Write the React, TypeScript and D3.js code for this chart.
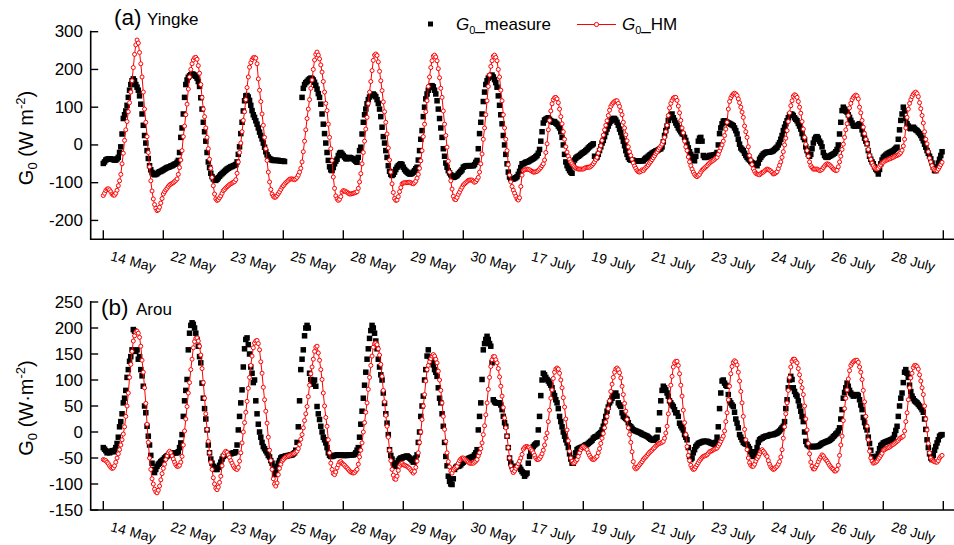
import React from 'react';
import * as d3 from 'd3';

// day labels, one per 24 h block (half-hourly values, 48 per day)
const days = ['14 May', '22 May', '23 May', '25 May', '28 May', '29 May', '30 May',
  '17 July', '19 July', '21 July', '23 July', '24 July', '26 July', '28 July'];

const yTicksA = [-200, -100, 0, 100, 200, 300];
const yTicksB = [-150, -100, -50, 0, 50, 100, 150, 200, 250];

// (a) Yingke, G0 measured
const yingkeMeasure = [
  -49,-45,-40,-38,-37,-37,-37,-38,-39,-40,-40,-37,-33,-20,-5,29,70,80,90,105,126,145,160,170,175,170,160,153,145,130,108,82,52,25,5,-15,-36,-55,-66,-73,-77,-79,-78,-76,-73,-71,-70,-68,
  -66,-64,-62,-60,-59,-58,-56,-55,-53,-51,-50,-46,-41,-20,20,45,82,126,160,172,179,183,186,188,187,185,182,177,168,155,125,95,60,35,10,-20,-45,-60,-75,-84,-90,-93,-94,-91,-87,-83,-79,-76,
  -73,-70,-67,-64,-62,-60,-58,-57,-55,-54,-52,-45,-25,-5,30,60,90,117,130,131,127,118,105,91,80,73,64,55,45,34,25,16,5,-6,-18,-26,-32,-36,-38,-40,-41,-41,-41,-41,-41,-42,-42,-43,
  -43,-44,null,null,null,null,null,null,null,null,null,null,null,null,null,126,150,160,165,168,172,175,177,176,172,166,158,148,136,126,108,82,55,30,5,-20,-41,-58,-66,-68,-60,-50,-43,-38,-28,-22,-20,-24,
  -28,-32,-36,-37,-35,-33,-34,-36,-37,-40,-43,-46,-33,-15,-6,29,60,80,95,109,120,127,131,133,135,132,128,120,110,95,75,47,22,5,-15,-33,-55,-70,-78,-81,-78,-72,-65,-59,-55,-52,-50,-52,
  -59,-65,-69,-72,-75,-77,-77,-75,-72,-68,-63,-59,-40,-15,15,38,75,100,122,135,145,152,155,157,154,145,135,117,95,70,45,20,-10,-30,-48,-59,-68,-74,-79,-83,-86,-85,-83,-81,-77,-73,-70,-66,
  -59,-57,-56,-55,-55,-55,-55,-55,-55,-52,-46,-41,-10,30,60,82,115,140,160,170,177,182,184,185,180,173,165,153,130,105,80,56,25,0,-25,-50,-72,-85,-90,-90,-90,-89,-87,-84,-78,-70,-60,-50,
  -50,-48,-46,-45,-44,-42,-40,-38,-36,-34,-31,-28,-22,-12,10,35,58,66,68,70,72,68,64,62,60,62,58,55,50,45,35,20,0,-25,-45,-55,-62,-68,-72,-75,-55,-40,-35,-32,-30,-28,-25,-22,
  -20,-18,-15,-12,-8,-5,-2,0,3,-30,-35,-32,-25,-15,-5,5,12,22,33,42,50,58,63,67,70,70,66,60,52,42,33,22,10,-2,-15,-25,-33,-38,-40,-40,-41,-42,-43,-43,-43,-42,-42,-42,
  -42,-38,-35,-33,-30,-27,-25,-22,-20,-18,-16,-15,-13,-11,-10,-5,8,25,38,50,65,75,80,82,72,65,58,52,45,40,35,30,28,20,12,2,-8,-18,-25,-32,-38,-42,-30,-15,10,18,20,10,
  -28,-33,-33,-32,-30,-28,-28,-28,-27,-26,-25,-20,0,30,45,56,63,64,62,60,58,57,55,53,51,45,38,29,15,2,-8,-12,-15,-22,-28,-33,-37,-40,-44,-47,-50,-52,-54,-55,-48,-38,-33,-28,
  -24,-22,-20,-19,-19,-19,-18,-17,-15,-12,-9,-6,0,6,15,25,38,47,56,64,72,80,82,81,78,72,68,64,57,50,42,30,20,14,-5,-15,-25,-30,-25,-10,5,15,20,22,18,10,5,-5,
  -20,-28,-32,-33,-32,-30,-28,-26,-24,-22,-18,-12,0,29,60,91,100,95,90,87,80,73,65,58,51,50,50,51,54,56,50,40,29,18,10,3,-15,-30,-38,-45,-50,-58,-64,-68,-77,-65,-50,-40,
  -33,-30,-27,-24,-22,-20,-19,-17,-15,-12,-9,-6,15,40,65,82,100,90,70,56,50,45,43,45,47,44,40,38,34,30,25,18,11,2,-6,-15,-22,-30,-37,-48,-59,-68,-68,-59,-48,-38,-28,-18,
];

// (a) Yingke, G0 from the HM model
const yingkeHM = [
  -134,-128,-121,-117,-116,-119,-124,-130,-133,-133,-128,-120,-108,-95,-78,-50,-22,12,40,62,88,112,140,170,205,240,265,278,270,245,215,180,140,95,60,22,-20,-58,-95,-122,-143,-158,-168,-174,-172,-165,-154,-142,
  -130,-124,-119,-115,-110,-106,-104,-102,-100,-97,-94,-90,-78,-60,-40,-15,22,50,80,108,148,180,200,215,225,231,232,227,210,190,160,126,95,75,45,20,-10,-38,-62,-86,-108,-130,-143,-147,-145,-140,-135,-128,
  -121,-118,-114,-111,-108,-105,-103,-101,-99,-97,-92,-75,-45,-20,5,35,65,88,120,152,180,206,218,226,231,232,230,215,175,145,115,82,52,20,-10,-41,-72,-98,-118,-130,-136,-139,-138,-134,-129,-124,-118,-112,
  -108,-104,-100,-97,-94,-91,-90,-90,-91,-92,-90,-86,-80,-72,-62,-45,-18,10,40,70,95,120,150,172,200,225,240,246,238,228,212,193,168,140,110,91,55,20,-10,-41,-85,-115,-135,-143,-147,-144,-137,-125,
  -121,-122,-124,-125,-128,-130,-130,-129,-128,-127,-126,-124,-115,-98,-76,-50,-20,10,42,73,110,140,168,197,224,238,241,237,220,195,170,144,114,88,60,29,-8,-40,-72,-103,-126,-142,-147,-146,-137,-124,-113,-103,
  -101,-100,-100,-100,-99,-99,-100,-102,-103,-100,-96,-88,-78,-62,-42,-15,22,55,88,117,155,180,205,223,235,238,233,223,202,178,150,126,90,55,25,-6,-43,-72,-95,-117,-136,-144,-145,-139,-131,-125,-118,-112,
  -106,-103,-100,-97,-94,-93,-93,-93,-96,-99,-97,-92,-86,-72,-50,-24,15,45,80,117,155,185,208,223,235,238,232,223,200,180,145,117,80,45,15,-15,-52,-80,-98,-110,-120,-128,-136,-143,-146,-140,-110,-80,
  -68,-66,-65,-64,-65,-66,-68,-70,-72,-72,-71,-70,-67,-64,-60,-55,-50,-40,-20,3,40,65,90,109,120,125,126,122,112,95,75,56,35,15,-5,-19,-30,-38,-45,-50,-55,-58,-61,-63,-64,-64,-64,-64,
  -64,-62,-60,-59,-59,-59,-57,-54,-50,-45,-39,-33,-22,-12,-2,12,26,40,52,64,78,92,102,108,112,115,117,117,110,102,90,80,60,45,27,11,-5,-18,-28,-38,-48,-56,-62,-68,-71,-72,-70,-66,
  -68,-64,-60,-57,-53,-48,-44,-39,-34,-29,-23,-19,-13,-8,-3,2,9,20,35,52,78,98,110,118,124,126,126,118,103,85,65,45,32,10,-5,-15,-32,-45,-55,-64,-72,-78,-82,-84,-81,-78,-72,-67,
  -64,-61,-58,-55,-51,-48,-45,-43,-41,-38,-35,-33,-25,-16,-8,0,10,25,42,60,95,115,125,131,135,137,135,131,122,112,100,87,73,50,35,20,-5,-28,-40,-52,-63,-70,-75,-77,-78,-79,-76,-73,
  -72,-69,-66,-64,-65,-67,-69,-73,-77,-76,-74,-71,-63,-54,-45,-33,-18,0,18,38,62,85,104,117,129,133,131,126,115,100,84,62,42,20,2,-15,-30,-45,-55,-60,-64,-64,-64,-64,-66,-68,-67,-65,
  -60,-56,-52,-50,-51,-53,-56,-60,-64,-66,-68,-67,-58,-45,-30,-12,2,20,40,56,78,98,110,120,126,130,132,130,122,100,85,65,47,30,15,3,-12,-28,-38,-48,-55,-60,-63,-64,-62,-57,-53,-48,
  -46,-43,-41,-40,-38,-37,-36,-34,-33,-31,-29,-28,-26,-24,-20,-14,-3,15,45,73,95,110,120,128,134,138,140,136,128,112,96,78,58,35,15,3,-18,-35,-45,-55,-63,-66,-68,-68,-64,-58,-52,-46,
];

// (b) Arou, G0 measured
const arouMeasure = [
  -30,-33,-36,-40,-38,-40,-38,-36,-38,-35,-30,-22,-10,10,20,35,56,65,80,105,120,136,145,158,197,194,155,158,140,145,120,108,88,50,37,11,-8,-25,-45,-60,-72,-78,-72,-66,-62,-60,-57,-55,
  -53,-50,-48,-46,-45,-44,-43,-42,-41,-40,-40,-40,-38,-30,-21,-5,30,60,80,101,158,190,205,210,207,200,190,178,165,145,133,94,65,45,25,4,-25,-40,-52,-60,-66,-70,-72,-72,-68,-64,-58,-52,
  -47,-45,-44,-44,-43,-42,-42,-41,-40,-40,-38,-25,4,30,56,81,125,160,178,181,168,150,125,113,95,100,60,35,15,0,-10,-20,-28,-32,-36,-40,-45,-48,-55,-60,-70,-82,-75,-66,-60,-55,-50,-48,
  -48,-47,-46,-46,-45,-45,-44,-44,-42,-40,-35,-20,10,60,120,140,158,185,200,205,200,113,101,95,92,100,88,49,35,24,11,0,-10,-15,-21,-30,-40,-45,-47,-47,-46,-45,-45,-44,-44,-44,-45,-44,
  -45,-45,-45,-45,-44,-44,-44,-44,-44,-43,-40,-35,-30,-10,15,40,65,90,115,140,160,180,195,205,200,190,175,160,140,125,110,100,75,55,35,17,-5,-34,-45,-52,-60,-66,-66,-60,-55,-52,-50,-50,
  -48,-48,-47,-46,-48,-50,-52,-55,-58,-56,-50,-44,-20,0,30,50,69,100,120,146,158,145,139,135,129,120,115,107,85,65,56,35,11,-20,-47,-65,-85,-95,-100,-101,-90,-72,-68,-66,-66,-65,-63,-60,
  -58,-56,-54,-53,-51,-50,-49,-48,-47,-44,-40,-34,4,30,56,101,158,170,178,184,178,170,165,133,62,58,56,56,56,56,52,43,30,18,11,-8,-30,-50,-60,-66,-72,-70,-68,-66,-66,-68,-72,-76,
  -79,-85,-82,-79,-60,-47,-38,-32,-28,-25,-23,-21,4,30,70,100,113,110,105,101,98,94,90,85,75,70,62,56,45,30,20,10,0,-8,-15,-21,-30,-42,-52,-60,-60,-50,-40,-34,-32,-31,-30,-29,
  -28,-26,-25,-24,-22,-20,-18,-16,-12,-10,-9,-8,-5,-3,-1,4,11,20,30,40,48,56,60,65,69,73,75,69,56,52,49,37,30,28,26,24,18,12,10,7,4,3,2,1,0,-1,-2,-4,
  -5,-6,-7,-8,-10,-12,-14,-15,-16,-14,-12,-10,4,37,60,80,88,85,81,75,69,60,56,52,49,43,37,37,30,17,12,8,4,-5,-10,-15,-30,-47,-53,-50,-40,-34,-28,-25,-22,-21,-20,-19,
  -18,-18,-18,-18,-19,-20,-21,-22,-23,-24,-20,-10,10,45,75,98,100,94,90,88,72,60,56,52,49,38,25,17,8,-5,-10,-15,-20,-22,-23,-24,-28,-32,-38,-43,-47,-45,-38,-30,-20,-15,-13,-12,
  -10,-9,-8,-8,-7,-6,-5,-5,-5,-4,-3,-2,0,2,5,8,11,20,45,62,85,100,107,101,85,78,72,69,60,50,40,30,20,0,-18,-24,-26,-28,-28,-28,-28,-28,-28,-28,-27,-26,-24,-22,
  -21,-20,-19,-18,-17,-16,-14,-12,-9,-7,-4,-2,2,8,25,43,65,76,85,94,88,80,75,72,69,70,71,72,70,62,52,43,28,18,10,4,-10,-22,-35,-47,-53,-51,-49,-47,-42,-32,-26,-24,
  -21,-20,-19,-18,-17,-16,-15,-14,-12,-5,3,11,30,50,65,75,95,115,120,113,105,90,78,69,64,60,58,56,53,50,47,43,38,25,5,-15,-30,-42,-50,-53,-45,-35,-28,-21,-15,-8,-6,-5,
];

// (b) Arou, G0 from the HM model
const arouHM = [
  -53,-54,-55,-58,-61,-65,-68,-70,-69,-65,-58,-50,-42,-34,-25,-15,-4,10,30,50,75,105,130,155,175,185,192,194,190,182,165,138,115,85,55,15,-20,-50,-72,-90,-100,-110,-115,-117,-112,-104,-92,-80,
  -70,-62,-53,-46,-40,-37,-40,-46,-52,-58,-63,-66,-66,-64,-58,-47,-25,2,25,49,75,95,120,140,162,174,180,181,175,165,148,122,95,65,35,5,-18,-40,-58,-72,-88,-100,-108,-111,-106,-97,-85,-65,
  -45,-40,-37,-39,-44,-49,-55,-60,-65,-69,-71,-72,-68,-56,-40,-21,0,18,38,59,84,105,128,146,162,171,175,176,170,158,135,113,86,62,40,17,-10,-35,-55,-72,-90,-100,-104,-98,-82,-70,-62,-56,
  -53,-50,-48,-47,-46,-45,-44,-43,-42,-41,-39,-37,-32,-24,-14,-5,8,22,35,49,68,90,112,125,140,155,163,165,152,138,120,101,75,50,28,11,-15,-40,-60,-72,-80,-82,-77,-69,-63,-58,-57,-60,
  -62,-64,-67,-69,-72,-75,-77,-78,-79,-78,-75,-72,-62,-48,-35,-21,0,18,38,56,82,105,128,146,163,170,171,168,160,148,130,107,80,58,32,11,-10,-35,-55,-72,-83,-90,-91,-85,-74,-66,-62,-60,
  -63,-64,-65,-66,-68,-70,-73,-76,-79,-76,-68,-56,-40,-20,0,24,50,72,98,120,128,135,141,146,149,146,140,133,117,100,80,56,30,5,-18,-40,-57,-67,-75,-79,-73,-70,-68,-66,-60,-55,-52,-50,
  -50,-52,-54,-56,-58,-60,-60,-60,-60,-58,-56,-53,-46,-40,-32,-21,-5,12,33,56,82,105,126,139,145,145,139,133,122,106,88,69,47,27,8,-8,-30,-50,-65,-72,-78,-75,-70,-66,-61,-56,-50,-43,
  -33,-30,-28,-28,-29,-30,-33,-36,-40,-45,-50,-53,-53,-51,-47,-42,-35,-25,-12,-2,20,42,65,81,103,115,121,123,121,113,100,85,66,48,25,4,-17,-37,-50,-56,-60,-59,-56,-53,-47,-40,-34,-30,
  -28,-30,-32,-34,-40,-45,-49,-52,-53,-52,-49,-47,-40,-32,-22,-12,-3,8,19,30,45,60,78,92,105,115,121,123,120,114,104,88,72,55,40,24,8,-5,-20,-38,-57,-68,-71,-69,-66,-63,-60,-57,
  -53,-50,-48,-45,-42,-39,-37,-35,-32,-30,-27,-25,-23,-22,-21,-20,-18,-12,-2,11,35,60,90,107,125,133,136,136,128,112,90,69,42,18,-5,-28,-45,-55,-64,-69,-72,-71,-67,-63,-59,-55,-52,-49,
  -47,-46,-45,-44,-41,-38,-37,-36,-34,-33,-32,-31,-27,-23,-18,-13,-8,2,20,37,62,88,112,126,134,137,135,129,115,98,78,56,30,5,-15,-34,-50,-59,-64,-66,-66,-62,-56,-51,-47,-42,-37,-34,
  -37,-40,-44,-47,-55,-62,-67,-70,-72,-71,-68,-66,-62,-57,-48,-34,-12,10,35,56,80,105,125,136,140,140,136,133,122,110,97,85,72,50,25,4,-22,-42,-58,-66,-71,-71,-67,-63,-57,-52,-48,-44,
  -46,-50,-53,-56,-60,-64,-67,-70,-72,-75,-75,-72,-64,-45,-25,-8,22,45,65,81,102,118,128,132,135,137,138,138,134,125,115,101,80,58,30,11,-15,-37,-50,-56,-60,-59,-58,-56,-52,-49,-45,-41,
  -35,-34,-32,-31,-30,-29,-27,-25,-24,-22,-20,-18,-16,-13,-11,-10,-8,2,20,37,62,85,104,113,124,128,128,126,121,110,98,85,72,50,25,4,-22,-40,-50,-54,-56,-57,-58,-58,-55,-50,-47,-45,
];

const FONT = '"Liberation Sans", Arial, Helvetica, sans-serif';
const RED = '#ff0000';
const AXIS_X = 90.7;

const xScale = d3.scaleLinear().domain([0, 14]).range([103.3, 943.3]);
const tOf = (i: number) => Math.floor(i / 48) + (i % 48) / 48;

type PanelProps = {
  measure: (number | null)[];
  hm: number[];
  domain: [number, number];
  range: [number, number];
  ticks: number[];
  tag: string;
  site: string;
  tagX: number;
  siteX: number;
  tagY: number;
  unit: string;
  titleY: number;
};

function Panel({ measure, hm, domain, range, ticks, tag, site, tagX, siteX, tagY, unit, titleY }: PanelProps) {
  const y = d3.scaleLinear().domain(domain).range(range);
  const axisY = range[0];
  const line = d3.line<number>()
    .x((_, i) => xScale(tOf(i)))
    .y((d) => y(d));

  return (
    <g>
      {/* axes */}
      <line x1={AXIS_X} x2={AXIS_X} y1={range[1] - 1} y2={axisY} stroke="#000" strokeWidth={1.6} />
      <line x1={AXIS_X - 0.8} x2={954} y1={axisY} y2={axisY} stroke="#000" strokeWidth={1.6} />
      {ticks.map((t) => (
        <g key={t}>
          <line x1={AXIS_X} x2={AXIS_X + 7.5} y1={y(t)} y2={y(t)} stroke="#000" strokeWidth={1.4} />
          <text x={83} y={y(t)} textAnchor="end" dominantBaseline="central" fontSize={17} fontFamily={FONT}>{t}</text>
        </g>
      ))}
      {d3.range(15).map((d) => (
        <line key={d} x1={xScale(d)} x2={xScale(d)} y1={axisY} y2={axisY - 9} stroke="#000" strokeWidth={1.4} />
      ))}
      {days.map((lab, d) => (
        <text key={lab + d} transform={`translate(${xScale(d + 0.5)},${axisY + 22}) rotate(15)`}
          textAnchor="middle" dominantBaseline="central" fontSize={14} fontFamily={FONT}>{lab}</text>
      ))}

      {/* y title */}
      <text transform={`translate(33,${titleY}) rotate(-90)`} textAnchor="middle" fontSize={20} fontFamily={FONT}>
        G<tspan fontSize={13} dy={4}>0</tspan><tspan dy={-4}>{` (${unit}`}</tspan><tspan fontSize={13} dy={-8}>-2</tspan><tspan dy={8}>)</tspan>
      </text>

      {/* panel tag */}
      <text x={tagX} y={tagY} fontSize={22.5} fontFamily={FONT}>{tag}</text>
      <text x={siteX} y={tagY} fontSize={17} fontFamily={FONT}>{site}</text>

      {/* measured */}
      {measure.map((v, i) => v == null ? null : (
        <rect key={'m' + i} x={xScale(tOf(i)) - 2.75} y={y(v) - 2.75} width={5.5} height={5.5} fill="#000" />
      ))}

      {/* HM model */}
      <path d={line(hm) || ''} fill="none" stroke={RED} strokeWidth={1} />
      {hm.map((v, i) => (
        <circle key={'h' + i} cx={xScale(tOf(i))} cy={y(v)} r={2} fill="#fff" stroke={RED} strokeWidth={1} />
      ))}
    </g>
  );
}

export default function App() {
  return (
    <svg width={954} height={545} style={{ position: 'absolute', left: 0, top: 0, background: '#fff' }}>
      <rect width={954} height={545} fill="#fff" />
      <Panel measure={yingkeMeasure} hm={yingkeHM} domain={[-250, 300]} range={[239.3, 31.7]}
        ticks={yTicksA} tag="(a)" site="Yingke" tagX={114} siteX={147} tagY={25} unit="W m" titleY={138} />
      <Panel measure={arouMeasure} hm={arouHM} domain={[-150, 250]} range={[510, 302]}
        ticks={yTicksB} tag="(b)" site="Arou" tagX={101} siteX={136} tagY={315} unit="W·m" titleY={408} />

      {/* legend */}
      <rect x={428} y={21.5} width={5} height={5} fill="#000" />
      <text x={456} y={30} fontSize={17} fontFamily={FONT}>
        <tspan fontStyle="italic">G</tspan><tspan fontSize={11} dy={4}>0</tspan><tspan dy={-4}>_measure</tspan>
      </text>
      <line x1={577} x2={616} y1={24.5} y2={24.5} stroke={RED} strokeWidth={1} />
      <circle cx={596.5} cy={24.5} r={2.1} fill="#fff" stroke={RED} strokeWidth={1} />
      <text x={622} y={30} fontSize={17} fontFamily={FONT}>
        <tspan fontStyle="italic">G</tspan><tspan fontSize={11} dy={4}>0</tspan><tspan dy={-4}>_HM</tspan>
      </text>
    </svg>
  );
}
